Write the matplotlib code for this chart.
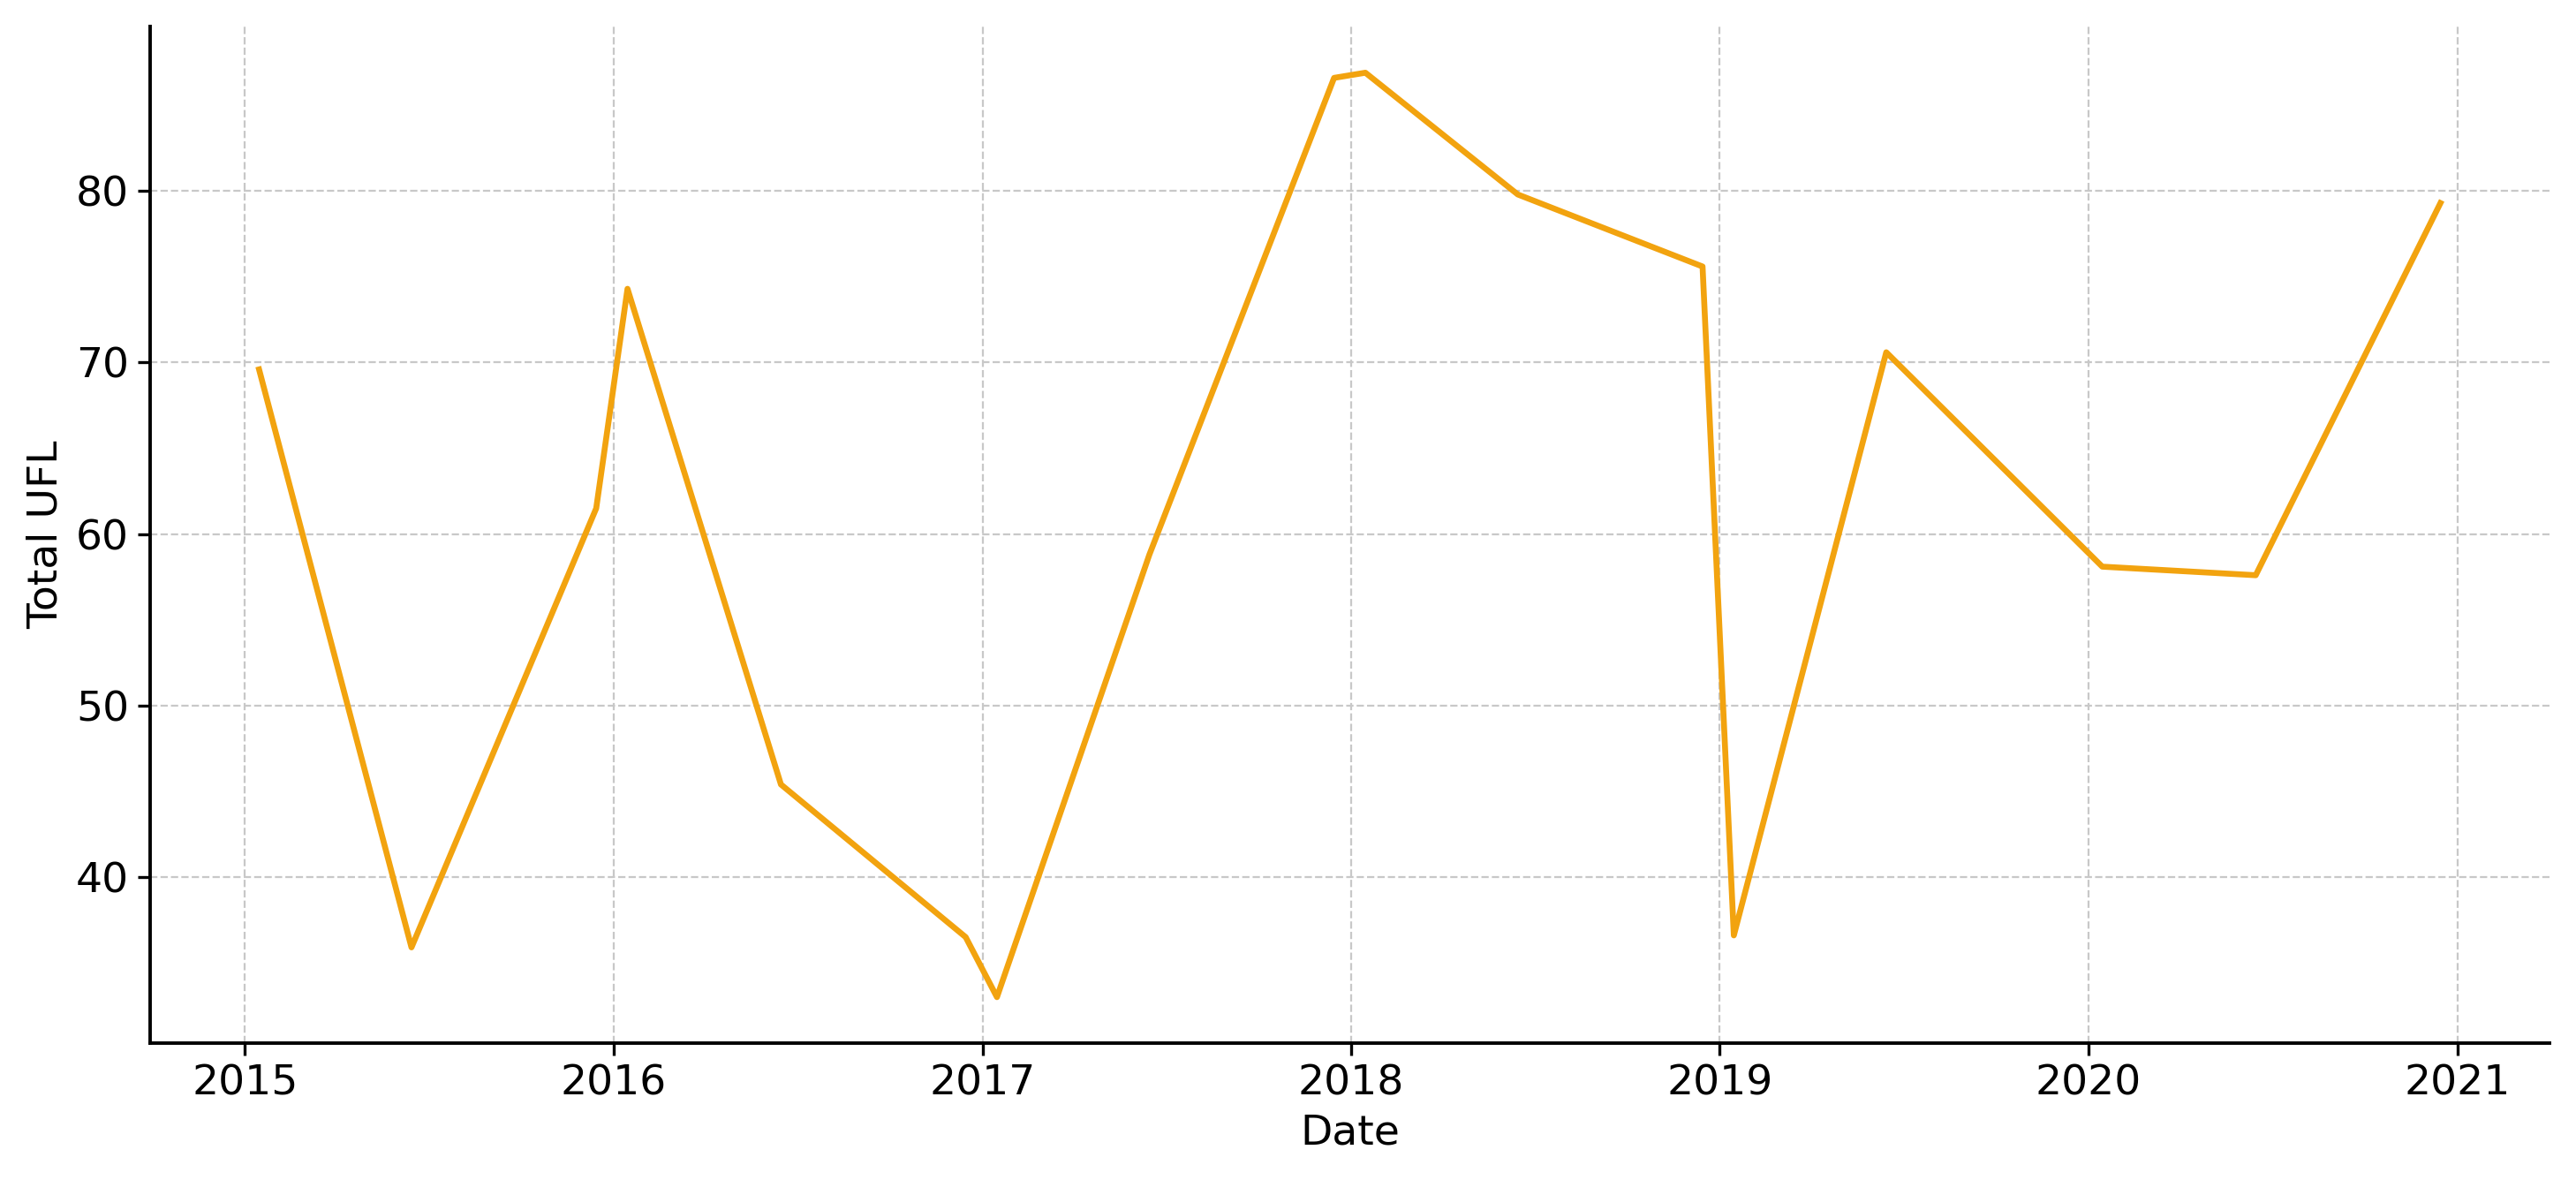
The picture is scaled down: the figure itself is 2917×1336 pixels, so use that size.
import matplotlib
matplotlib.use('Agg')
import matplotlib.pyplot as plt
import matplotlib.dates as mdates
import pandas as pd

dates = ["2015-01-15", "2015-06-15", "2015-12-15", "2016-01-15", "2016-06-15",
         "2016-12-15", "2017-01-15", "2017-06-15", "2017-12-15", "2018-01-15",
         "2018-06-15", "2018-12-15", "2019-01-15", "2019-06-15", "2020-01-15",
         "2020-06-15", "2020-12-15"]
total_ufl = [69.6, 35.9, 61.5, 74.3, 45.4, 36.5, 33.0, 58.8, 86.6, 86.9,
             79.8, 75.6, 36.6, 70.6, 58.1, 57.6, 79.3]

fig, ax = plt.subplots(figsize=(14.585, 6.68), dpi=200)
ax.plot(pd.to_datetime(dates), total_ufl, color='#F2A30F', lw=2.4)

ax.grid(True, ls='--', color='#c8c8c8', lw=0.8)
ax.spines['top'].set_visible(False)
ax.spines['right'].set_visible(False)
for s in ('left', 'bottom'):
    ax.spines[s].set_linewidth(1.4)
ax.xaxis.set_major_locator(mdates.YearLocator())
ax.xaxis.set_major_formatter(mdates.DateFormatter('%Y'))
ax.tick_params(labelsize=17, width=1.2, length=5)
ax.set_xlabel('Date', fontsize=17)
ax.set_ylabel('Total UFL', fontsize=17)

fig.tight_layout()
fig.savefig('out.png', dpi=200)
